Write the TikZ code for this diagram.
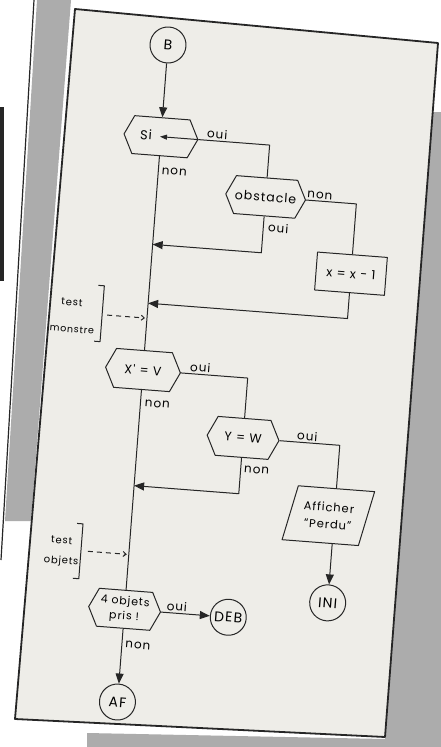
\documentclass[tikz,border=0pt]{standalone}
\usepackage{fontspec}
\setmainfont{Poppins}
\newfontfamily\hand[LetterSpace=8]{Poppins}
\usetikzlibrary{arrows.meta,shapes.symbols,shapes.geometric}
\definecolor{paper}{HTML}{EEEDE8}
\definecolor{bggray}{HTML}{ACACAC}
\definecolor{ink}{HTML}{262626}
\begin{document}
\begin{tikzpicture}[x=1pt,y=-1pt,line join=round,
  ln/.style={draw=ink,line width=1pt},
  arr/.style={ln,-{Triangle[length=10pt,width=8pt]}},
  sarr/.style={ln,-{Triangle[length=7pt,width=5pt]}},
  dsh/.style={ln,dash pattern=on 5pt off 4pt,-{Straight Barb[length=3pt,width=5pt]}},
  hexa/.style={ln,shape=signal,signal to=east and west,signal pointer angle=128,
    minimum width=74pt,minimum height=38pt,inner sep=0pt,transform shape,
    font=\hand\fontsize{12.5}{13}\selectfont,align=center},
  circ/.style={ln,circle,minimum size=36pt,inner sep=0pt,transform shape,
    font=\hand\fontsize{14}{14}\selectfont},
  boxn/.style={ln,rectangle,minimum width=70pt,minimum height=38pt,inner sep=0pt,
    transform shape,font=\hand\fontsize{12.5}{13}\selectfont},
  para/.style={ln,trapezium,trapezium left angle=70,trapezium right angle=110,
    trapezium stretches=true,minimum width=89pt,minimum height=55pt,inner sep=0pt,
    transform shape,align=center,font=\hand\fontsize{11.5}{17}\selectfont},
  lab/.style={transform shape,inner sep=1pt,font=\hand\fontsize{12}{12}\selectfont},
  slab/.style={transform shape,inner sep=0pt,font=\hand\fontsize{10}{10}\selectfont}]
\useasboundingbox (0,0) rectangle (441,747);
\fill[white] (0,0) rectangle (441,747);
% background of the photograph
\fill[bggray] (37,0) -- (71,0) -- (31,521) -- (5,521) -- cycle;
\draw[ink,line width=1.2pt] (34,0) -- (1,560);
\fill[ink] (0,107) rectangle (4,281);
\fill[bggray] (433,112) -- (441,112) -- (441,747) -- (87,747) -- (87,733) -- (385,739) -- cycle;
% the page
\filldraw[fill=paper,draw=ink,line width=1.8pt] (75,9) -- (438,43) -- (385,737) -- (15,719) -- cycle;
\begin{scope}[shift={(168,45)},rotate=-4.4]
  \node[circ] (B) at (0,0) {B};
  \node[hexa] (si) at (0,92) {};
  \node[lab,font=\hand\fontsize{13}{13}\selectfont] (sitxt) at (-15,91) {Si};
  \node[hexa] (obst) at (109,144) {obstacle};
  \node[boxn] (box) at (200,214) {x = x - 1};
  \node[hexa,minimum width=75pt,minimum height=39pt] (xv) at (0,326) {X' = V};
  \node[hexa,minimum width=72pt,minimum height=39pt] (yw) at (105,386) {Y = W};
  \node[para] (aff) at (196,457) {Afficher\\“Perdu”};
  \node[circ] (ini) at (202,544) {INI};
  \node[hexa,minimum width=72pt,font=\hand\fontsize{11}{15}\selectfont] (obj) at (0,566) {4 objets\\pris !};
  \node[circ] (deb) at (104,566) {DEB};
  \node[circ] (af) at (0,659) {AF};
  % corner and junction coordinates
  \coordinate (c1) at (109,92);
  \coordinate (c2) at (200,144);
  \coordinate (c3) at (109,200);
  \coordinate (m1) at (0,200);
  \coordinate (c4) at (200,259);
  \coordinate (m2) at (0,259);
  \coordinate (c5) at (105,326);
  \coordinate (c6) at (202,386);
  \coordinate (pt) at (202,429.5);
  \coordinate (pb) at (202,484.5);
  \coordinate (c7) at (105,442);
  \coordinate (m4) at (0,442);
  \coordinate (sitip) at (-1,92);
  % connectors
  \draw[arr] (B) -- (si);
  \draw[sarr] (si.east) -- (sitip);
  \draw[ln] (si.east) -- (c1) -- (obst.north);
  \draw[ln] (si.south) -- (xv.north);
  \draw[ln] (obst.east) -- (c2) -- (box.north);
  \draw[arr] (obst.south) -- (c3) -- (m1);
  \draw[arr] (box.south) -- (c4) -- (m2);
  \draw[ln] (xv.east) -- (c5) -- (yw.north);
  \draw[ln] (xv.south) -- (obj.north);
  \draw[ln] (yw.east) -- (c6) -- (pt);
  \draw[arr] (yw.south) -- (c7) -- (m4);
  \draw[arr] (pb) -- (ini);
  \draw[arr] (obj.east) -- (deb);
  \draw[arr] (obj.south) -- (af);
  % labels
  \node[lab,anchor=south] at (56,91) {oui};
  \node[lab] at (16,126) {non};
  \node[lab,anchor=south] at (163,143) {non};
  \node[lab] at (124,174) {oui};
  \node[lab,anchor=south] at (57,325) {oui};
  \node[lab] at (17,359) {non};
  \node[lab,anchor=south] at (169,385) {oui};
  \node[lab] at (121,417) {non};
  \node[lab,anchor=south] at (52,565) {oui};
  \node[lab] at (16,601) {non};
  % side notes
  \node[slab] (tm1) at (-76,264) {test};
  \node[slab,font=\hand\fontsize{9.5}{10}\selectfont] (tm2) at (-74,291) {monstre};
  \coordinate (bm) at (-40,274);
  \coordinate (m3) at (-2,274);
  \draw[ln] (-51,245) -- (-45,245) -- (-45,301) -- (-51,301);
  \draw[dsh] (bm) -- (m3);
  \node[slab] (to1) at (-68,502) {test};
  \node[slab] (to2) at (-67,523) {objets};
  \coordinate (bo) at (-41,511);
  \coordinate (m5) at (-2,511);
  \draw[ln] (-54,484) -- (-48,484) -- (-48,539) -- (-54,539);
  \draw[dsh] (bo) -- (m5);
\end{scope}
\end{tikzpicture}
\end{document}
